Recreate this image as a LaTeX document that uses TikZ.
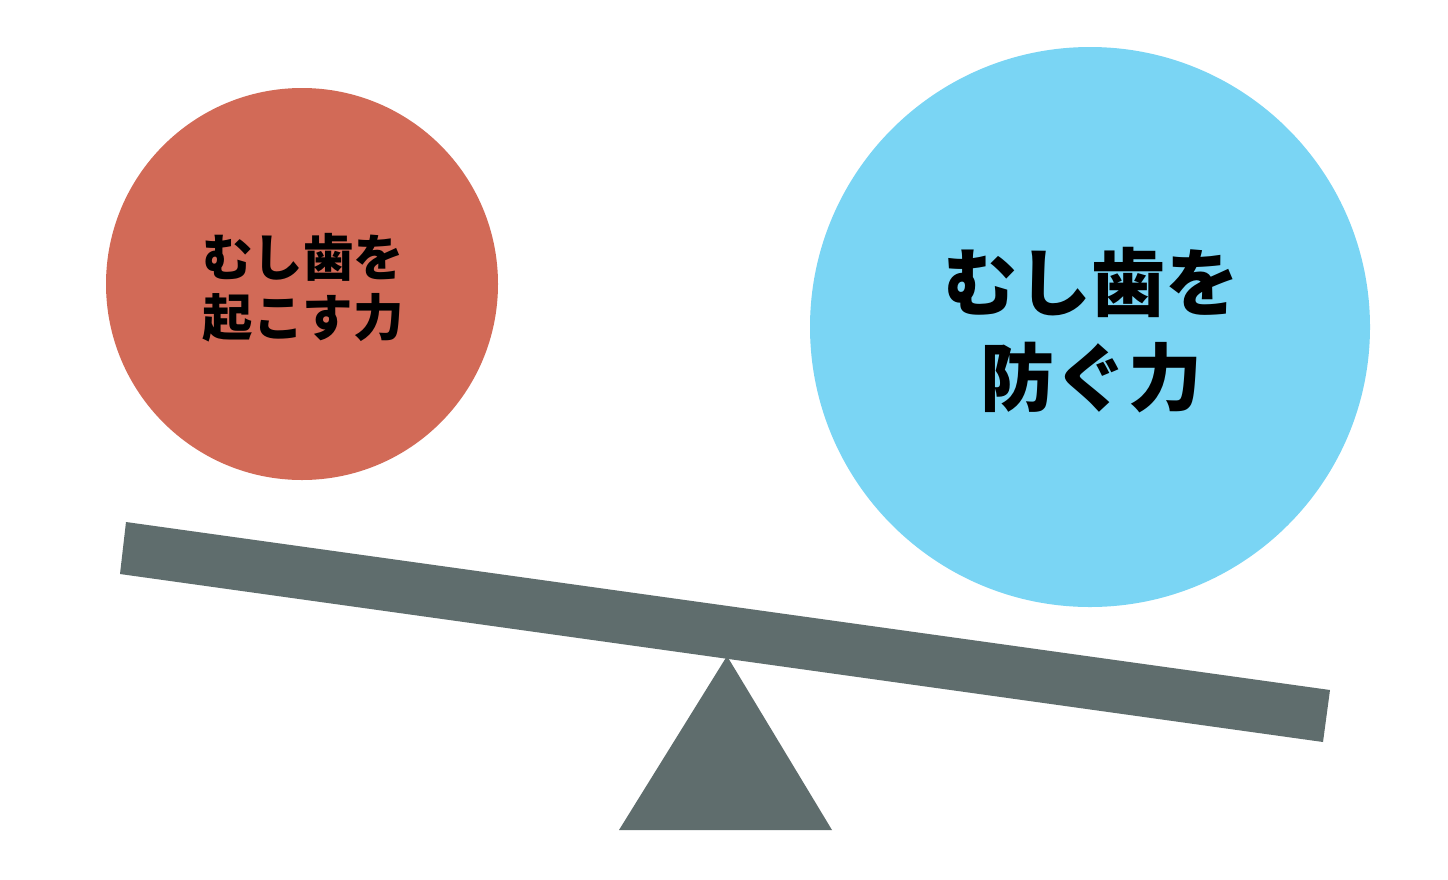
\documentclass[tikz,border=0pt]{standalone}
\usepackage{fontspec}
\newfontfamily\cjk{Noto Sans CJK JP}
\definecolor{redball}{HTML}{D26A57}
\definecolor{blueball}{HTML}{7AD5F4}
\definecolor{beamgray}{HTML}{5F6D6D}
\tikzset{
  ball/.style={circle, inner sep=0pt, align=center, text=black},
  smalltext/.style={font={\cjk\bfseries\fontsize{50.5}{60}\selectfont}},
  bigtext/.style={font={\cjk\bfseries\fontsize{74}{95}\selectfont}},
  part/.style={fill=beamgray, draw=none}
}
\begin{document}
\begin{tikzpicture}[x=1pt,y=-1pt]
\useasboundingbox[fill=white] (0,0) rectangle (1448,879);
% fulcrum
\coordinate (apex) at (727,656);
\coordinate (bl) at (619,830);
\coordinate (br) at (832,830);
\fill[part] (apex) -- (bl) -- (br) -- cycle;
% beam
\coordinate (b1) at (126,522);
\coordinate (b2) at (1330,690);
\coordinate (b3) at (1323,742);
\coordinate (b4) at (120,574);
\fill[part] (b1) -- (b2) -- (b3) -- (b4) -- cycle;
% balls
\node[ball, fill=redball, minimum size=392pt] (cause) at (302,284) {};
\node[smalltext, align=center] (causetext) at (303,288) {むし歯を\\起こす力};
\node[ball, fill=blueball, minimum size=560pt] (prevent) at (1090,327) {};
\node[bigtext, align=center] (preventtext) at (1091,330) {むし歯を\\防ぐ力};
\end{tikzpicture}
\end{document}
